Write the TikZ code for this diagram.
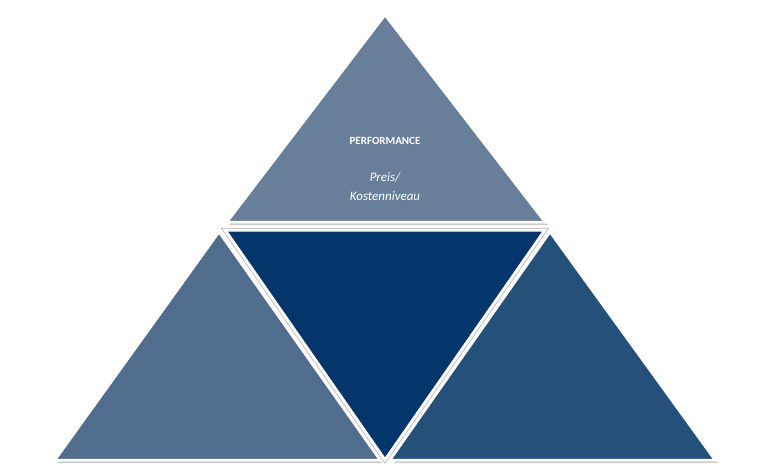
\documentclass[tikz,border=0pt]{standalone}
\usepackage{fontspec}
\setmainfont{Carlito}
\begin{document}
\begin{tikzpicture}[x=1pt,y=-1pt,
  tri/.style={draw=white,line width=2.5pt,line join=miter},
  lbl/.style={text=white,align=center}]
\useasboundingbox (0,0) rectangle (768,467);
\definecolor{cTop}{HTML}{687F9A}
\definecolor{cLeft}{HTML}{506D8E}
\definecolor{cMid}{HTML}{04366B}
\definecolor{cRight}{HTML}{24507A}
\fill[gray!40] (387,17) -- (548,225) -- (229,225) -- cycle;
\fill[gray!40] (221,234) -- (382,463) -- (57,463) -- cycle;
\fill[gray!40] (552,234) -- (718,463) -- (394,463) -- cycle;
\filldraw[tri,fill=cTop] (385,15) -- (545,222) -- (227,222) -- cycle;
\filldraw[tri,fill=cLeft] (219,232) -- (380,460) -- (55,460) -- cycle;
\filldraw[tri,fill=cRight] (550,232) -- (715,460) -- (390,460) -- cycle;
\filldraw[draw=gray!60,line width=4.5pt,line join=miter,fill=white] (225,230) -- (545,230) -- (385,460) -- cycle;
\filldraw[draw=white,line width=3pt,line join=miter,fill=cMid] (225,230) -- (545,230) -- (385,460) -- cycle;
\node[lbl,font=\bfseries\fontsize{11}{13}\selectfont] (perf) at (385,141) {PERFORMANCE};
\node[lbl,font=\itshape\fontsize{13}{19}\selectfont] (preis) at (385,187) {Preis/\\Kostenniveau};
\end{tikzpicture}
\end{document}
